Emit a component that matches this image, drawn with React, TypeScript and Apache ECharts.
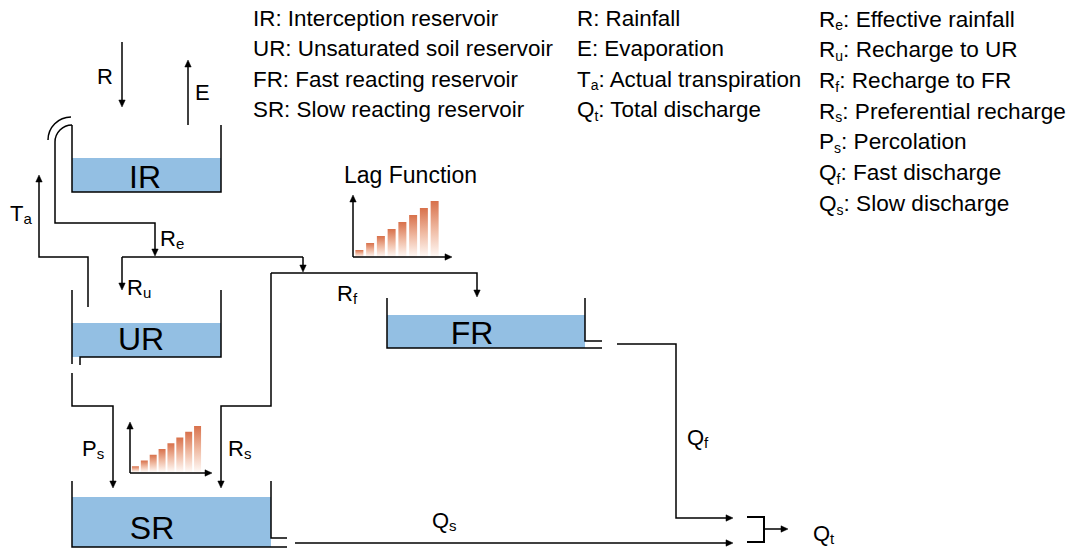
import React, { useEffect, useRef } from 'react';
import * as echarts from 'echarts';

// ---- data ----
const lagSteps = ['1', '2', '3', '4', '5', '6', '7', '8'];
const lagValues = [1.25, 2.5, 3.75, 5, 6.25, 7.5, 8.75, 10];

const legendCol1: [string, string, string][] = [
  ['IR', '', ': Interception reservoir'],
  ['UR', '', ': Unsaturated soil reservoir'],
  ['FR', '', ': Fast reacting reservoir'],
  ['SR', '', ': Slow reacting reservoir'],
];
const legendCol2: [string, string, string][] = [
  ['R', '', ': Rainfall'],
  ['E', '', ': Evaporation'],
  ['T', 'a', ': Actual transpiration'],
  ['Q', 't', ': Total discharge'],
];
const legendCol3: [string, string, string][] = [
  ['R', 'e', ': Effective rainfall'],
  ['R', 'u', ': Recharge to UR'],
  ['R', 'f', ': Recharge to FR'],
  ['R', 's', ': Preferential recharge'],
  ['P', 's', ': Percolation'],
  ['Q', 'f', ': Fast discharge'],
  ['Q', 's', ': Slow discharge'],
];

const FONT = '"Liberation Sans", Arial, Helvetica, sans-serif';
const INK = '#000000';
const WATER = '#93bfe3';

function richText(x: number, y: number, parts: [string, string, string?], size = 22, subSize = 14, align = 'left') {
  const [m, s, rest] = parts;
  let t = `{m|${m}}`;
  if (s) t += `{s|${s}}`;
  if (rest) t += `{m|${rest}}`;
  return {
    type: 'text',
    x,
    y,
    z: 20,
    silent: true,
    style: {
      text: t,
      fill: INK,
      font: `${size}px ${FONT}`,
      align,
      textAlign: align,
      verticalAlign: 'middle',
      textVerticalAlign: 'middle',
      rich: {
        m: { fontSize: size, fontFamily: FONT, lineHeight: size + 4, fill: INK },
        s: { fontSize: subSize, fontFamily: FONT, lineHeight: subSize + 2, verticalAlign: 'bottom', fill: INK },
      },
    },
  };
}

function line(points: number[][], lw = 1.5) {
  return {
    type: 'polyline',
    z: 10,
    silent: true,
    shape: { points },
    style: { stroke: INK, lineWidth: lw, fill: 'none' },
  };
}

function arrow(points: number[][], lw = 1.5) {
  const n = points.length;
  const [tx, ty] = points[n - 1];
  const [px, py] = points[n - 2];
  const len = Math.hypot(tx - px, ty - py);
  const dx = (tx - px) / len;
  const dy = (ty - py) / len;
  const L = 7;
  const W = 3.2;
  const bx = tx - dx * L;
  const by = ty - dy * L;
  const pts = points.slice(0, n - 1).concat([[tx - dx * L * 0.6, ty - dy * L * 0.6]]);
  return [
    line(pts, lw),
    {
      type: 'polygon',
      z: 10,
      silent: true,
      shape: { points: [[tx, ty], [bx - dy * W, by + dx * W], [bx + dy * W, by - dx * W]] },
      style: { fill: INK, stroke: INK, lineWidth: 0.5 },
    },
  ];
}

function water(x: number, y: number, w: number, h: number) {
  return { type: 'rect', z: 5, silent: true, shape: { x, y, width: w, height: h }, style: { fill: WATER } };
}

function arc(cx: number, cy: number, r: number) {
  return {
    type: 'arc',
    z: 10,
    silent: true,
    shape: { cx, cy, r, startAngle: Math.PI, endAngle: Math.PI * 1.5, clockwise: true },
    style: { stroke: INK, lineWidth: 1.5, fill: 'none' },
  };
}

export default function App() {
  const ref = useRef<HTMLDivElement>(null);
  useEffect(() => {
    if (!ref.current) return;
    const chart = echarts.init(ref.current, undefined, { renderer: 'svg' });

    const els: any[] = [];
    // Legends
    legendCol1.forEach((p, i) => els.push(richText(253, 18 + i * 30.5, p, 22.4, 14)));
    legendCol2.forEach((p, i) => els.push(richText(577, 18 + i * 30.5, p, 22.4, 14)));
    legendCol3.forEach((p, i) => els.push(richText(819, 19 + i * 30.7, p, 22.6, 14)));

    // IR tank
    els.push(water(72, 158, 149, 34));
    els.push(line([[72, 125], [72, 192], [221, 192], [221, 125]]));
    els.push(richText(145, 177, ['IR', ''], 32, 14, 'center'));
    // overflow hook
    els.push(arc(71, 140, 23));
    els.push(arc(72, 142, 17));
    // R & E
    els.push(...arrow([[122, 42], [122, 107]]));
    els.push(richText(97, 76, ['R', ''], 22));
    els.push(...arrow([[188, 125], [188, 60]]));
    els.push(richText(195, 92, ['E', ''], 22));
    // Re path
    els.push(...arrow([[55, 142], [55, 223], [155, 223], [155, 256]]));
    els.push(richText(160, 238, ['R', 'e'], 22, 15));
    // distribution line
    els.push(line([[122, 257], [303, 257]]));
    els.push(...arrow([[122, 257], [122, 290]]));
    els.push(richText(127, 287, ['R', 'u'], 22, 15));
    els.push(...arrow([[303, 257], [303, 272]]));
    // Ta path
    els.push(...arrow([[88, 307], [88, 257], [39, 257], [39, 175]]));
    els.push(richText(10, 213, ['T', 'a'], 22, 15));
    // UR tank
    els.push(water(72, 323, 149, 34));
    els.push(line([[72, 290], [72, 364]]));
    els.push(line([[80, 365], [80, 357], [221, 357], [221, 290]]));
    els.push(richText(141, 339, ['UR', ''], 32, 14, 'center'));
    // Ps path
    els.push(...arrow([[72, 373], [72, 406], [113, 406], [113, 488]]));
    els.push(richText(82, 448, ['P', 's'], 22, 15));
    // Rs and Rf paths
    els.push(...arrow([[271, 273], [271, 406], [221, 406], [221, 488]]));
    els.push(richText(228, 448, ['R', 's'], 22, 15));
    els.push(...arrow([[271, 273], [477, 273], [477, 297]]));
    els.push(richText(337, 293, ['R', 'f'], 22, 15));
    // SR tank
    els.push(water(72, 497, 199, 50));
    els.push(line([[72, 481], [72, 547], [287, 547]]));
    els.push(line([[271, 481], [271, 538], [287, 538]]));
    els.push(richText(152, 528, ['SR', ''], 32, 14, 'center'));
    // Qs
    els.push(...arrow([[295, 543], [733, 543]]));
    els.push(richText(432, 520, ['Q', 's'], 22, 15));
    // FR tank
    els.push(water(387, 315, 198, 33));
    els.push(line([[387, 298], [387, 348], [602, 348]]));
    els.push(line([[585, 298], [585, 341], [602, 341]]));
    els.push(richText(472, 333, ['FR', ''], 32, 14, 'center'));
    // Qf
    els.push(...arrow([[617, 344], [676, 344], [676, 518], [733, 518]]));
    els.push(richText(687, 437, ['Q', 'f'], 22, 15));
    // Qt bracket
    els.push(line([[747, 517], [764, 517], [764, 542], [747, 542]], 2));
    els.push(...arrow([[764, 529], [788, 529]]));
    els.push(richText(813, 533, ['Q', 't'], 22, 15));
    // Lag function (big)
    els.push(richText(344, 175, ['Lag Function', ''], 23));
    els.push(...arrow([[353, 257], [353, 195]]));
    els.push(...arrow([[353, 257], [452, 257]]));
    // Lag function (small)
    els.push(...arrow([[130, 473], [130, 422]]));
    els.push(...arrow([[130, 473], [212, 473]]));

    const grad = () =>
      new echarts.graphic.LinearGradient(0, 0, 0, 1, [
        { offset: 0, color: '#d8714b' },
        { offset: 0.5, color: '#efb9a1' },
        { offset: 1, color: '#fffaf7' },
      ]);

    chart.setOption({
      animation: false,
      backgroundColor: '#ffffff',
      grid: [
        { left: 354, top: 201, width: 86, height: 56 },
        { left: 131, top: 426, width: 71, height: 46 },
      ],
      xAxis: [
        { type: 'category', gridIndex: 0, data: lagSteps, show: false },
        { type: 'category', gridIndex: 1, data: lagSteps, show: false },
      ],
      yAxis: [
        { type: 'value', gridIndex: 0, min: 0, max: 10, show: false },
        { type: 'value', gridIndex: 1, min: 0, max: 10, show: false },
      ],
      series: [
        { type: 'bar', xAxisIndex: 0, yAxisIndex: 0, data: lagValues, barWidth: 8, itemStyle: { color: grad() }, silent: true },
        { type: 'bar', xAxisIndex: 1, yAxisIndex: 1, data: lagValues, barWidth: 7, itemStyle: { color: grad() }, silent: true },
      ],
      graphic: { elements: els },
    });
    return () => chart.dispose();
  }, []);
  return <div ref={ref} style={{ position: 'absolute', left: 0, top: 0, width: 1069, height: 550 }} />;
}
